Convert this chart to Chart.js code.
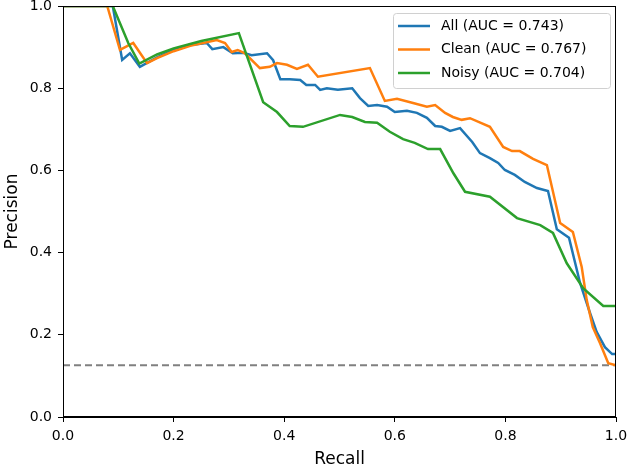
<!DOCTYPE html>
<html>
<head>
<meta charset="utf-8">
<script src="https://cdn.jsdelivr.net/npm/chart.js@4.4.0/dist/chart.umd.min.js"></script>
<style>
  html, body { margin: 0; padding: 0; background: #fff; }
  canvas { display: block; }
</style>
</head>
<body>
<canvas id="prChart" width="628" height="468"></canvas>
<script>
// precision-recall curves, values
const recallAll = [0, 0.09, 0.107, 0.121, 0.139, 0.17, 0.2, 0.23, 0.26, 0.27, 0.29, 0.307, 0.326, 0.341, 0.369, 0.38, 0.393, 0.41, 0.429, 0.44, 0.456, 0.465, 0.477, 0.497, 0.523, 0.537, 0.552, 0.568, 0.586, 0.6, 0.622, 0.64, 0.658, 0.673, 0.685, 0.7, 0.718, 0.74, 0.754, 0.772, 0.787, 0.799, 0.817, 0.835, 0.857, 0.877, 0.893, 0.915, 0.935, 0.953, 0.965, 0.98, 0.993, 1.0];
const precisionAll = [1, 1, 0.869, 0.885, 0.852, 0.875, 0.893, 0.905, 0.91, 0.895, 0.9, 0.885, 0.886, 0.88, 0.885, 0.868, 0.822, 0.822, 0.82, 0.808, 0.808, 0.796, 0.8, 0.796, 0.8, 0.776, 0.757, 0.759, 0.755, 0.742, 0.745, 0.74, 0.728, 0.708, 0.706, 0.696, 0.703, 0.669, 0.642, 0.63, 0.618, 0.601, 0.589, 0.572, 0.557, 0.55, 0.457, 0.436, 0.326, 0.253, 0.207, 0.17, 0.153, 0.153];

const recallClean = [0, 0.08, 0.103, 0.127, 0.152, 0.17, 0.2, 0.23, 0.278, 0.293, 0.305, 0.316, 0.329, 0.356, 0.374, 0.387, 0.405, 0.423, 0.443, 0.461, 0.555, 0.582, 0.604, 0.633, 0.658, 0.673, 0.691, 0.705, 0.721, 0.736, 0.772, 0.796, 0.812, 0.826, 0.85, 0.875, 0.899, 0.922, 0.938, 0.947, 0.958, 0.971, 0.986, 1.0];
const precisionClean = [1, 1, 0.893, 0.91, 0.861, 0.873, 0.89, 0.903, 0.917, 0.91, 0.888, 0.893, 0.885, 0.849, 0.852, 0.861, 0.857, 0.847, 0.857, 0.828, 0.849, 0.769, 0.774, 0.764, 0.755, 0.759, 0.74, 0.73, 0.723, 0.727, 0.706, 0.657, 0.647, 0.647, 0.628, 0.613, 0.472, 0.45, 0.365, 0.285, 0.219, 0.18, 0.131, 0.126];

const recallNoisy = [0, 0.09, 0.118, 0.138, 0.17, 0.2, 0.25, 0.318, 0.362, 0.387, 0.41, 0.434, 0.501, 0.523, 0.546, 0.568, 0.591, 0.615, 0.636, 0.66, 0.682, 0.706, 0.727, 0.772, 0.821, 0.863, 0.886, 0.911, 0.941, 0.977, 1.0];
const precisionNoisy = [1, 1, 0.91, 0.86, 0.882, 0.897, 0.915, 0.934, 0.766, 0.742, 0.708, 0.706, 0.735, 0.73, 0.718, 0.716, 0.694, 0.676, 0.667, 0.652, 0.652, 0.593, 0.548, 0.536, 0.484, 0.467, 0.448, 0.374, 0.313, 0.27, 0.27];

const baselineRecall = [0, 1];
const baselinePrecision = [0.126, 0.126];

const seriesLabels = ['All (AUC = 0.743)', 'Clean (AUC = 0.767)', 'Noisy (AUC = 0.704)'];
const seriesColors = ['#1f77b4', '#ff7f0e', '#2ca02c'];
const tickValues = [0, 0.2, 0.4, 0.6, 0.8, 1.0];

function toPoints(xs, ys) {
    return xs.map(function (x, i) { return { x: x, y: ys[i] }; });
}

const FONT = 'DejaVu Sans';

// frame + legend box drawn inside the plot, like matplotlib does
const framePlugin = {
    id: 'frame',
    afterDatasetsDraw: function (chart) {
        const ctx = chart.ctx;
        const a = chart.chartArea;
        ctx.save();
        ctx.strokeStyle = '#000';
        ctx.lineWidth = 1;
        ctx.strokeRect(Math.round(a.left) + 0.5, Math.round(a.top) + 0.5,
            Math.round(a.right - a.left) - 1, Math.round(a.bottom - a.top) - 1);

        // legend
        const x0 = a.right - 223, y0 = a.top + 7, w = 217, h = 75;
        ctx.beginPath();
        ctx.roundRect(x0 + 0.5, y0 + 0.5, w, h, 3);
        ctx.fillStyle = 'rgba(255,255,255,0.8)';
        ctx.fill();
        ctx.strokeStyle = '#d0d0d0';
        ctx.lineWidth = 1;
        ctx.stroke();
        ctx.font = '14px "' + FONT + '"';
        ctx.textBaseline = 'middle';
        ctx.textAlign = 'left';
        for (let i = 0; i < seriesLabels.length; i++) {
            const yy = y0 + 13 + i * 23.5;
            ctx.beginPath();
            ctx.moveTo(x0 + 5, yy);
            ctx.lineTo(x0 + 37, yy);
            ctx.strokeStyle = seriesColors[i];
            ctx.lineWidth = 2.5;
            ctx.stroke();
            ctx.fillStyle = '#000';
            ctx.fillText(seriesLabels[i], x0 + 48, yy);
        }
        ctx.restore();
    }
};

const ctx = document.getElementById('prChart').getContext('2d');
const prChart = new Chart(ctx, {
    type: 'line',
    data: {
        datasets: [{
            label: seriesLabels[2],
            data: toPoints(recallNoisy, precisionNoisy),
            borderColor: seriesColors[2],
            order: 1
        }, {
            label: seriesLabels[1],
            data: toPoints(recallClean, precisionClean),
            borderColor: seriesColors[1],
            order: 2
        }, {
            label: seriesLabels[0],
            data: toPoints(recallAll, precisionAll),
            borderColor: seriesColors[0],
            order: 3
        }, {
            label: 'baseline',
            data: toPoints(baselineRecall, baselinePrecision),
            borderColor: '#808080',
            borderWidth: 2,
            borderDash: [7, 4],
            order: 4
        }]
    },
    options: {
        responsive: false,
        animation: false,
        devicePixelRatio: 1,
        layout: { padding: { left: 0, right: 12, top: 6, bottom: 0 } },
        elements: {
            point: { radius: 0 },
            line: { borderWidth: 2.5, tension: 0, fill: false }
        },
        plugins: {
            legend: { display: false },
            tooltip: { enabled: false }
        },
        scales: {
            x: {
                type: 'linear',
                min: 0,
                max: 1,
                afterFit: function (s) {
                    s.height = 51;
                    s.paddingLeft = 0;
                    s.paddingRight = 0;
                },
                afterBuildTicks: function (s) { s.ticks = tickValues.map(function (v) { return { value: v }; }); },
                ticks: {
                    callback: function (v) { return v.toFixed(1); },
                    font: { family: FONT, size: 14 },
                    color: '#000',
                    padding: 6,
                    maxRotation: 0
                },
                grid: { drawOnChartArea: false, drawTicks: true, tickLength: 5, color: '#000' },
                border: { display: true, color: '#000', width: 1 },
                title: {
                    display: true,
                    text: 'Recall',
                    font: { family: FONT, size: 17, lineHeight: 1.0 },
                    color: '#000',
                    padding: { top: 0, bottom: 0 }
                }
            },
            y: {
                type: 'linear',
                min: 0,
                max: 1,
                afterFit: function (s) {
                    s.width = 63;
                    s.paddingTop = 0;
                    s.paddingBottom = 0;
                },
                afterBuildTicks: function (s) { s.ticks = tickValues.map(function (v) { return { value: v }; }); },
                ticks: {
                    callback: function (v) { return v.toFixed(1); },
                    font: { family: FONT, size: 14 },
                    color: '#000',
                    padding: 6
                },
                grid: { drawOnChartArea: false, drawTicks: true, tickLength: 5, color: '#000' },
                border: { display: true, color: '#000', width: 1 },
                title: {
                    display: true,
                    text: 'Precision',
                    font: { family: FONT, size: 17 },
                    color: '#000',
                    padding: { top: 2, bottom: 0 }
                }
            }
        }
    },
    plugins: [framePlugin]
});
</script>
</body>
</html>
